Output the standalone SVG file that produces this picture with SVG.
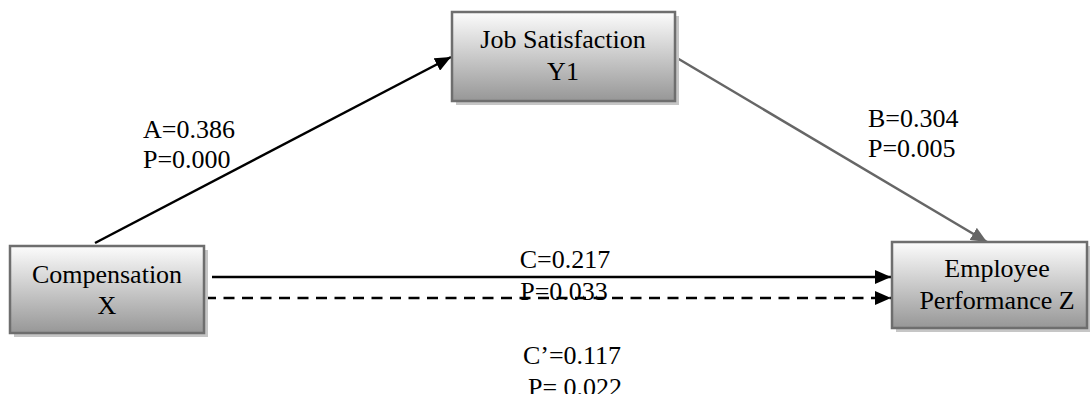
<svg xmlns="http://www.w3.org/2000/svg" width="1090" height="394" viewBox="0 0 1090 394">
<style>
.t{font-family:"Liberation Serif","Times New Roman",serif;font-size:26px;fill:#000}
.m{text-anchor:middle}
.box{fill:url(#g);stroke:#6e6e6e;stroke-width:2.5}
.sh{fill:#c6c6c6}
.blk{stroke:#000;stroke-width:2.5;fill:none}
.gry{stroke:#666;stroke-width:2.5;fill:none}
</style>
<defs>
<linearGradient id="g" x1="0" y1="0" x2="0" y2="1">
<stop offset="0" stop-color="#fcfcfc"/>
<stop offset="1" stop-color="#979797"/>
</linearGradient>
<marker id="ab" viewBox="0 0 16 14" refX="16" refY="7" markerWidth="16" markerHeight="14" markerUnits="userSpaceOnUse" orient="auto">
<path d="M0,0L16,7L0,14Z" fill="#000"/>
</marker>
<marker id="ag" viewBox="0 0 16 14" refX="16" refY="7" markerWidth="16" markerHeight="14" markerUnits="userSpaceOnUse" orient="auto">
<path d="M0,0L16,7L0,14Z" fill="#666"/>
</marker>
</defs>
<g id="connectors">
<line class="blk" x1="95" y1="243" x2="451" y2="57" marker-end="url(#ab)"/>
<line class="gry" x1="677" y1="58" x2="987" y2="242" marker-end="url(#ag)"/>
<line class="blk" x1="212" y1="277" x2="891" y2="277" marker-end="url(#ab)"/>
<line class="blk" x1="205" y1="298" x2="891" y2="298" stroke-dasharray="11 7.5" marker-end="url(#ab)"/>
</g>
<g id="node-job">
<rect class="sh" x="456" y="16" width="223" height="89"/>
<rect class="box" x="452" y="12" width="223" height="89"/>
<text class="t m" x="563" y="48">Job Satisfaction</text>
<text class="t m" x="563" y="80">Y1</text>
</g>
<g id="node-comp">
<rect class="sh" x="14" y="250" width="194" height="87"/>
<rect class="box" x="10" y="246" width="194" height="87"/>
<text class="t m" x="107" y="283">Compensation</text>
<text class="t m" x="107" y="314">X</text>
</g>
<g id="node-emp">
<rect class="sh" x="896" y="246" width="200" height="86"/>
<rect class="box" x="892" y="242" width="195" height="86"/>
<text class="t m" x="997" y="277">Employee</text>
<text class="t m" x="997" y="309">Performance Z</text>
</g>
<g id="labels">
<text class="t" x="143" y="138">A=0.386</text>
<text class="t" x="143" y="168">P=0.000</text>
<text class="t" x="868" y="127">B=0.304</text>
<text class="t" x="868" y="157">P=0.005</text>
<text class="t m" x="565" y="268">C=0.217</text>
<text class="t m" x="564" y="300">P=0.033</text>
<text class="t m" x="572" y="364">C’=0.117</text>
<text class="t m" x="575" y="396">P= 0.022</text>
</g>
</svg>
